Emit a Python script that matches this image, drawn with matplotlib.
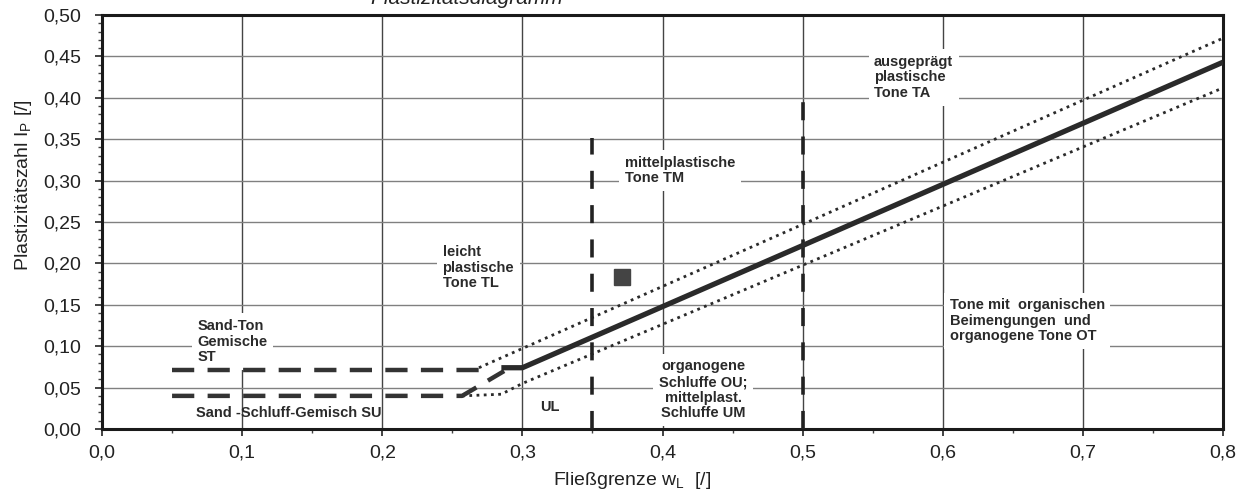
import matplotlib
matplotlib.use("Agg")
import matplotlib.pyplot as plt
from matplotlib.ticker import MultipleLocator, FuncFormatter

plt.rcParams['font.family'] = ['Liberation Sans', 'DejaVu Sans']
plt.rcParams['mathtext.fontset'] = 'custom'
plt.rcParams['mathtext.rm'] = 'Liberation Sans'
plt.rcParams['mathtext.it'] = 'Liberation Sans:italic'

# ---- data ----
a_line_x = [0.285, 0.30, 0.80]
a_line_y = [0.074, 0.074, 0.443]
upper_dot_x = [0.269, 0.80]
upper_dot_y = [0.074, 0.472]
lower_dot_x = [0.257, 0.285, 0.30, 0.80]
lower_dot_y = [0.040, 0.042, 0.055, 0.412]
st_x = [0.05, 0.270]
st_y = [0.0715, 0.0715]
su_x = [0.05, 0.257, 0.287]
su_y = [0.040, 0.040, 0.070]
vline_x = [0.35, 0.50]
vline_top = [0.352, 0.40]
sample_x = [0.371]
sample_y = [0.184]

x_ticks = [0.0, 0.1, 0.2, 0.3, 0.4, 0.5, 0.6, 0.7, 0.8]
y_ticks = [0.00, 0.05, 0.10, 0.15, 0.20, 0.25, 0.30, 0.35, 0.40, 0.45, 0.50]

label_x = [0.068, 0.067, 0.313, 0.243, 0.373, 0.551, 0.605, 0.429]
label_y = [0.133, 0.019, 0.026, 0.222, 0.330, 0.452, 0.158, 0.084]
label_text = [
    "Sand-Ton\nGemische\nST",
    "Sand -Schluff-Gemisch SU",
    "UL",
    "leicht\nplastische\nTone TL",
    "mittelplastische\nTone TM",
    "ausgeprägt\nplastische\nTone TA",
    "Tone mit  organischen\nBeimengungen  und\norganogene Tone OT",
    "organogene\nSchluffe OU;\nmittelplast.\nSchluffe UM",
]
label_ha = ['left', 'left', 'left', 'left', 'left', 'left', 'left', 'center']
label_boxed = [True, False, False, True, True, True, True, True]

fig = plt.figure(figsize=(12.52, 4.90), dpi=100)
ax = fig.add_axes([102/1252, 61/490, 1121/1252, 414/490])

ax.set_xlim(0, 0.8)
ax.set_ylim(0, 0.5)
ax.set_xticks(x_ticks)
ax.set_yticks(y_ticks)
ax.xaxis.set_minor_locator(MultipleLocator(0.05))
ax.yaxis.set_minor_locator(MultipleLocator(0.01))
ax.xaxis.set_major_formatter(FuncFormatter(lambda v, p: f"{v:.1f}".replace('.', ',')))
ax.yaxis.set_major_formatter(FuncFormatter(lambda v, p: f"{v:.2f}".replace('.', ',')))
ax.tick_params(axis='both', which='major', labelsize=14, length=5, width=1.2,
               color='#222', labelcolor='#222')
ax.tick_params(axis='x', which='major', pad=6)
ax.tick_params(axis='y', which='major', pad=10)
ax.tick_params(axis='both', which='minor', length=3, width=1, color='#444')

for s in ax.spines.values():
    s.set_linewidth(2.2)
    s.set_color('#1a1a1a')

# grid
for x in x_ticks[1:-1]:
    ax.axvline(x, color='#444444', lw=1.0, zorder=1)
for y in y_ticks[1:-1]:
    ax.axhline(y, color='#808080', lw=1.0, zorder=1)

# lines
ax.plot(a_line_x, a_line_y, color='#2a2a2a', lw=3.8, solid_capstyle='butt', zorder=4)
ax.plot(upper_dot_x, upper_dot_y, color='#2a2a2a', lw=2.0, linestyle=(0, (1, 1.6)), zorder=3)
ax.plot(lower_dot_x, lower_dot_y, color='#2a2a2a', lw=2.0, linestyle=(0, (1, 1.6)), zorder=3)
ax.plot(st_x, st_y, color='#333333', lw=3.2, linestyle=(0, (5, 3)), zorder=3)
ax.plot(su_x, su_y, color='#333333', lw=3.2, linestyle=(0, (5, 3)), zorder=3)
for xv, top in zip(vline_x, vline_top):
    ax.plot([xv, xv], [0, top], color='#222222', lw=2.6, linestyle=(0, (5, 4.5)), zorder=3)

ax.plot(sample_x, sample_y, marker='s', markersize=12, color='#444444',
        linestyle='none', zorder=5)

for x, y, t, ha, boxed in zip(label_x, label_y, label_text, label_ha, label_boxed):
    bbox = dict(facecolor='white', edgecolor='none', pad=4) if boxed else None
    ax.text(x, y, t, ha=ha, va='top' if '\n' in t else 'center', fontsize=10.5,
            fontweight='bold', color='#2a2a2a', linespacing=1.15, zorder=2,
            bbox=bbox)

ax.set_xlabel("Fließgrenze w$_\\mathrm{L}$  [/]", fontsize=14, color='#222')
ax.xaxis.set_label_coords(0.473, -0.098)
ax.set_ylabel("Plastizitätszahl I$_\\mathrm{P}$ [/]", fontsize=14, color='#222')
ax.yaxis.set_label_coords(-0.061, 0.59)

fig.text(370/1252, 1 - 4/490, "Plastizitätsdiagramm", fontsize=15, style='italic',
         ha='left', va='baseline', color='#222')

fig.savefig("out.png", dpi=100)
